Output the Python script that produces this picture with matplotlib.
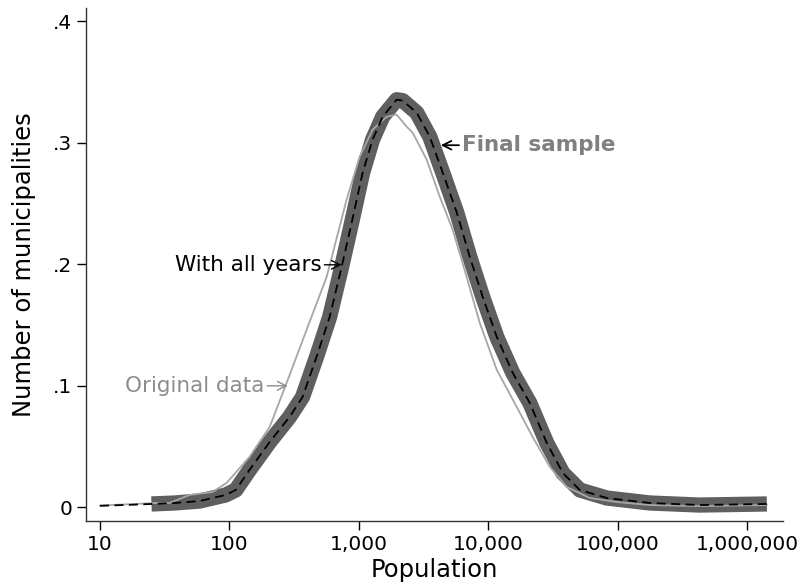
from matplotlib import pyplot as plt
from matplotlib.ticker import FixedLocator, NullLocator

# values (population, density)
final_pop = [25, 37.7, 58.9, 93.5, 112, 143, 205, 292, 368, 472, 596, 738, 881,
             1072, 1279, 1531, 1963, 2188, 2805, 3540, 4457, 5728, 7211, 9078,
             11670, 15490, 20990, 28380, 37760, 51170, 82600, 177800, 432500,
             1426000]
final_dens = [0.0025, 0.0033, 0.0049, 0.0099, 0.0140, 0.0305, 0.0536, 0.0742,
              0.0907, 0.1237, 0.1566, 0.1979, 0.2341, 0.2754, 0.3026, 0.3215,
              0.3355, 0.3347, 0.3248, 0.3050, 0.2754, 0.2424, 0.2061, 0.1731,
              0.1401, 0.1105, 0.0857, 0.0528, 0.0280, 0.0140, 0.0074, 0.0033,
              0.0016, 0.0025]

all_pop = [10, 17] + final_pop
all_dens = [0.001, 0.0018] + final_dens

orig_pop = [10, 27.4, 34.4, 49.2, 74.1, 95.1, 143, 205, 277, 395, 565, 805, 1016,
            1279, 1644, 1963, 2344, 2612, 3350, 4227, 5321, 6823, 8610, 11670,
            16630, 22080, 29990, 40550, 61090, 98860, 177800, 432500, 1426000]
orig_dens = [0.0012, 0.0033, 0.0033, 0.0099, 0.0124, 0.0198, 0.0412, 0.0660,
             0.1022, 0.1459, 0.1896, 0.2531, 0.2885, 0.3108, 0.3215, 0.3232,
             0.3133, 0.3083, 0.2861, 0.2556, 0.2284, 0.1896, 0.1517, 0.1129,
             0.0824, 0.0577, 0.0330, 0.0165, 0.0074, 0.0041, 0.0016, 0.0008,
             0.0016]

xticks = [10, 100, 1000, 10000, 100000, 1000000]
xtick_labels = ["10", "100", "1,000", "10,000", "100,000", "1,000,000"]
yticks = [0, 0.1, 0.2, 0.3, 0.4]
ytick_labels = ["0", ".1", ".2", ".3", ".4"]

plt.rcParams['font.family'] = ['DejaVu Sans']

fig = plt.figure(figsize=(8.01, 5.86), dpi=100)
ax = fig.add_axes([0.1074, 0.1114, 0.8701, 0.8749])

ax.plot(final_pop, final_dens, color='#5f5f5f', lw=11, solid_capstyle='butt',
        solid_joinstyle='round', zorder=2)
ax.plot(orig_pop, orig_dens, color='#a6a6a6', lw=1.3, zorder=3)
ax.plot(all_pop, all_dens, color='black', lw=1.3, ls=(0, (5, 3)), zorder=4)

ax.set_xscale('log')
ax.set_xlim(7.8, 1.9e6)
ax.set_ylim(-0.0113, 0.411)
ax.xaxis.set_major_locator(FixedLocator(xticks))
ax.xaxis.set_minor_locator(NullLocator())
ax.set_xticklabels(xtick_labels)
ax.set_yticks(yticks)
ax.set_yticklabels(ytick_labels)
ax.tick_params(labelsize=14.5, length=6.5, width=1, direction='out', pad=3.5)

for side in ['top', 'right']:
    ax.spines[side].set_visible(False)
for side in ['left', 'bottom']:
    ax.spines[side].set_color('#333333')
    ax.spines[side].set_linewidth(1)

ax.set_xlabel("Population", fontsize=17.5, labelpad=3)
ax.set_ylabel("Number of municipalities", fontsize=17.5, labelpad=12)

ax.annotate("Final sample", xy=(4305, 0.298), xytext=(6250, 0.298),
            fontsize=15.5, fontweight='bold', color='#808080', va='center', ha='left',
            arrowprops=dict(arrowstyle='->', color='black', lw=1.3,
                            shrinkA=0, shrinkB=0))
ax.annotate("With all years", xy=(738, 0.1995), xytext=(516, 0.1995),
            fontsize=15.5, color='black', va='center', ha='right',
            arrowprops=dict(arrowstyle='->', color='black', lw=1.0,
                            shrinkA=0, shrinkB=0))
ax.annotate("Original data", xy=(282, 0.0998), xytext=(187, 0.0998),
            fontsize=15.5, color='#8c8c8c', va='center', ha='right',
            arrowprops=dict(arrowstyle='->', color='#8c8c8c', lw=1.0,
                            shrinkA=0, shrinkB=0))

plt.savefig("out.png", dpi=100)
